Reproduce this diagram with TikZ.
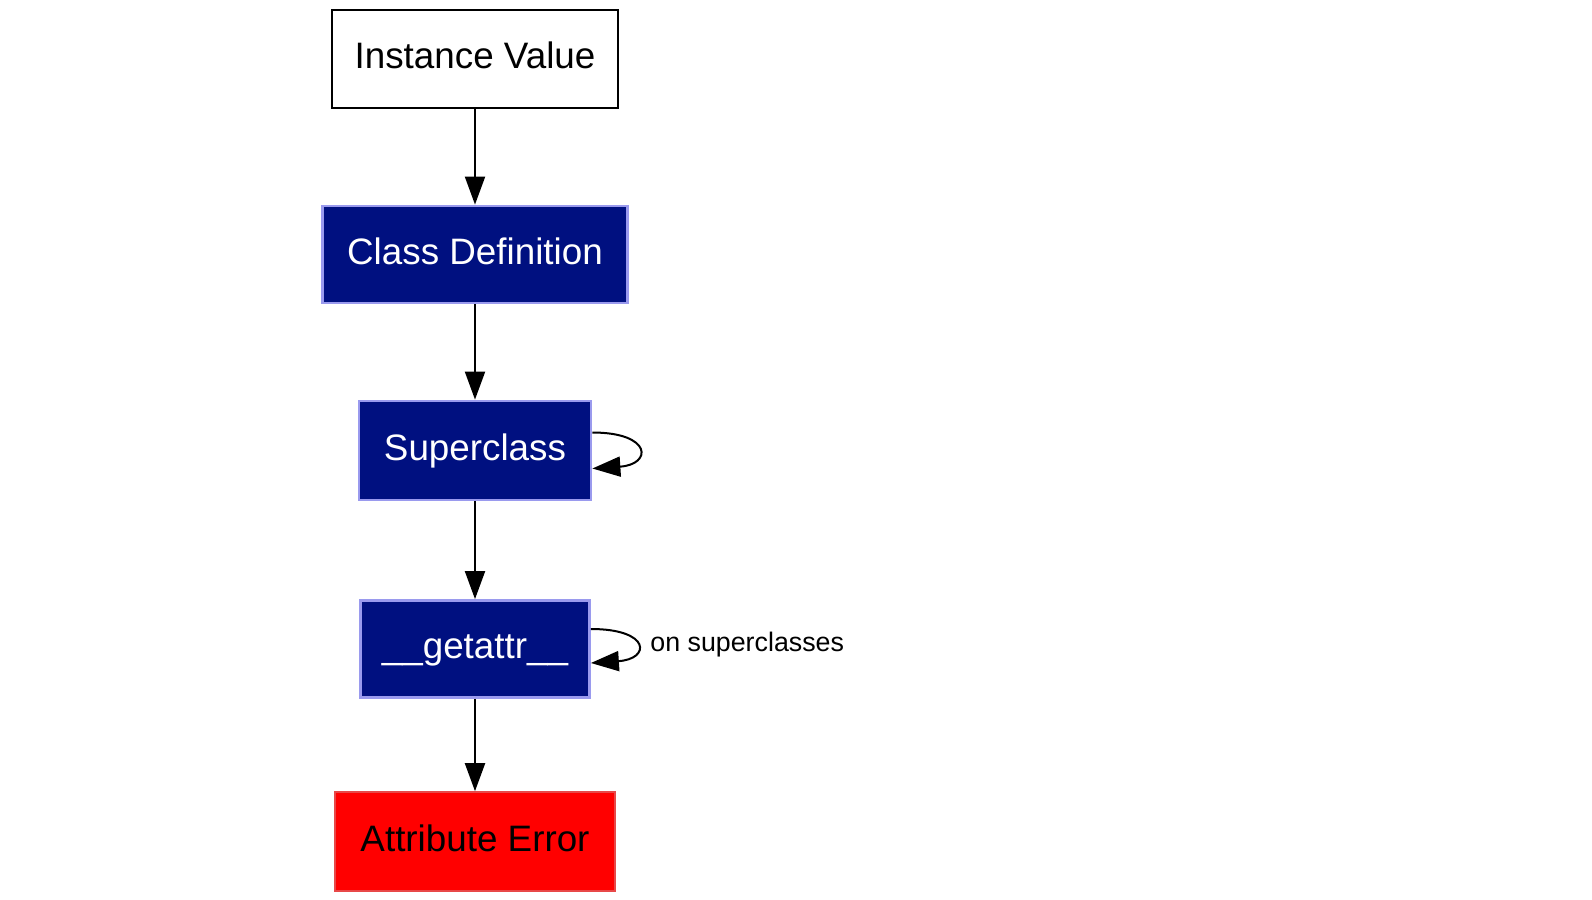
\documentclass[tikz,border=0pt]{standalone}
\usepackage{fontspec}
\setmainfont{Liberation Sans}
\usetikzlibrary{arrows.meta}
\definecolor{navyfill}{HTML}{001080}
\definecolor{navyedge}{HTML}{9A9AEE}
\definecolor{errfill}{HTML}{FF0000}
\definecolor{erredge}{HTML}{E84848}
\begin{document}
\begin{tikzpicture}[x=0.5pt,y=-0.5pt,
  box/.style={rectangle, inner sep=0pt, text height=13.5pt, text depth=4pt, font=\fontsize{18.4}{22}\selectfont},
  plainbox/.style={box, draw=black, line width=1.4pt, fill=white, text=black},
  bluebox/.style={box, draw=navyedge, line width=1.4pt, fill=navyfill, text=white},
  errbox/.style={box, draw=erredge, line width=0.8pt, fill=errfill, text=black},
  arr/.style={-{Triangle[length=14pt,width=10pt]}, line width=1pt, black},
  lbl/.style={font=\fontsize{13.4}{16}\selectfont, inner sep=0pt, anchor=west}]
\useasboundingbox (0,0) rectangle (1592,900);
\fill[white] (0,0) rectangle (1592,900);
\node[plainbox, minimum width=143pt, minimum height=49pt] (iv) at (475,59) {Instance Value};
\node[bluebox, minimum width=152.5pt, minimum height=48.5pt] (cd) at (475,254.5) {Class Definition};
\node[bluebox, minimum width=116pt, minimum height=49.5pt] (sc) at (475,450.5) {Superclass};
\node[bluebox, minimum width=114.5pt, minimum height=48.5pt] (ga) at (475,649) {\_\_getattr\_\_};
\node[errbox, minimum width=140pt, minimum height=49.5pt] (ae) at (475,841.5) {Attribute Error};
\draw[arr] (iv) -- (cd);
\draw[arr] (cd) -- (sc);
\draw[arr] (sc) -- (ga);
\draw[arr] (ga) -- (ae);
\draw[arr] ([yshift=9pt]sc.east) .. controls +(60,0) and +(60,-4) .. ([yshift=-9pt]sc.east);
\draw[arr] ([yshift=10pt]ga.east) .. controls +(60,0) and +(60,-4) .. ([yshift=-7pt]ga.east);
\node[lbl] (lb) at (650,645) {on superclasses};
\end{tikzpicture}
\end{document}
